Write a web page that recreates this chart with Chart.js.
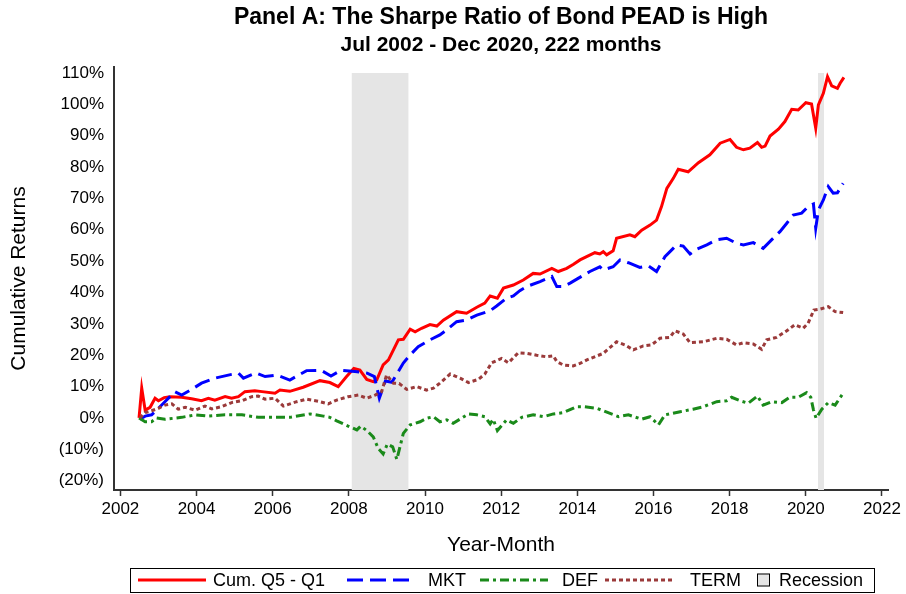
<!DOCTYPE html>
<html>
<head>
<meta charset="utf-8">
<script src="https://cdn.jsdelivr.net/npm/chart.js@4.4.1/dist/chart.umd.min.js"></script>
<style>
  html, body { margin: 0; padding: 0; background: #fff; }
  #wrap { width: 906px; height: 594px; }
</style>
</head>
<body>
<div id="wrap"><canvas id="chart" width="906" height="594"></canvas></div>
<script>
// ---- data (cumulative returns, %) ----
const xTickYears = [2002, 2004, 2006, 2008, 2010, 2012, 2014, 2016, 2018, 2020, 2022];
const yTickValues = [-20, -10, 0, 10, 20, 30, 40, 50, 60, 70, 80, 90, 100, 110];

const recessions = [[2008.07, 2009.57], [2020.32, 2020.48]];

const q5q1X = [2002.49, 2002.56, 2002.65, 2002.78, 2002.91, 2003.0, 2003.15, 2003.30, 2003.61, 2003.87, 2004.13, 2004.31, 2004.48, 2004.75, 2004.92, 2005.10, 2005.27, 2005.53, 2005.72, 2006.06, 2006.19, 2006.45, 2006.80, 2007.24, 2007.50, 2007.72, 2007.94, 2008.13, 2008.29, 2008.47, 2008.64, 2008.73, 2008.90, 2009.04, 2009.30, 2009.43, 2009.61, 2009.74, 2009.91, 2010.13, 2010.31, 2010.48, 2010.83, 2011.09, 2011.36, 2011.57, 2011.71, 2011.90, 2012.06, 2012.32, 2012.58, 2012.84, 2013.02, 2013.33, 2013.50, 2013.72, 2013.90, 2014.07, 2014.46, 2014.59, 2014.68, 2014.77, 2014.94, 2015.03, 2015.38, 2015.51, 2015.69, 2015.91, 2016.08, 2016.21, 2016.35, 2016.52, 2016.65, 2016.91, 2017.18, 2017.48, 2017.75, 2018.01, 2018.18, 2018.36, 2018.53, 2018.73, 2018.84, 2018.93, 2019.06, 2019.28, 2019.45, 2019.63, 2019.80, 2020.00, 2020.15, 2020.26, 2020.33, 2020.46, 2020.57, 2020.68, 2020.83, 2020.90, 2021.0];
const q5q1Y = [0, 9.5, 2.5, 3.4, 6.3, 5.5, 6.5, 6.8, 6.6, 6.1, 5.5, 6.3, 5.7, 6.8, 6.3, 6.8, 8.4, 8.7, 8.4, 7.9, 8.9, 8.5, 9.8, 11.9, 11.3, 10.0, 13.2, 15.8, 15.3, 12.3, 11.6, 12.1, 16.9, 18.5, 24.9, 25.1, 28.3, 27.5, 28.6, 29.8, 29.3, 31.2, 33.9, 33.4, 35.3, 36.6, 38.9, 38.2, 41.4, 42.4, 44.0, 46.1, 45.9, 47.7, 46.7, 47.7, 49.0, 50.4, 52.7, 52.3, 53.0, 52.0, 53.3, 57.3, 58.4, 57.8, 59.9, 61.5, 63.1, 67.4, 73.2, 76.4, 79.3, 78.5, 81.4, 83.9, 87.6, 88.8, 86.3, 85.5, 86.0, 87.8, 86.3, 86.7, 89.9, 92.1, 94.5, 98.4, 98.2, 100.5, 100.1, 92.4, 99.8, 103.5, 108.8, 105.9, 105.1, 106.7, 108.6];

const mktX = [2002.51, 2002.65, 2002.82, 2002.95, 2003.13, 2003.43, 2003.61, 2003.87, 2004.13, 2004.48, 2004.92, 2005.10, 2005.23, 2005.56, 2005.80, 2006.10, 2006.45, 2006.89, 2007.27, 2007.53, 2007.79, 2008.16, 2008.48, 2008.67, 2008.80, 2008.96, 2009.13, 2009.43, 2009.61, 2009.82, 2010.13, 2010.39, 2010.57, 2010.83, 2011.09, 2011.36, 2011.71, 2011.88, 2012.14, 2012.32, 2012.49, 2012.67, 2013.02, 2013.33, 2013.46, 2013.63, 2013.81, 2014.02, 2014.33, 2014.59, 2014.68, 2014.94, 2015.12, 2015.34, 2015.64, 2015.86, 2016.08, 2016.30, 2016.61, 2016.78, 2016.96, 2017.13, 2017.40, 2017.66, 2017.92, 2018.18, 2018.36, 2018.62, 2018.88, 2019.10, 2019.32, 2019.50, 2019.67, 2019.89, 2020.06, 2020.20, 2020.26, 2020.33, 2020.46, 2020.59, 2020.72, 2020.83, 2020.98];
const mktY = [-0.4, 0.6, 1.0, 2.5, 4.7, 8.4, 7.3, 9.1, 11.1, 12.7, 13.9, 14.3, 12.7, 14.4, 13.2, 13.7, 12.1, 15.1, 15.2, 13.4, 15.2, 14.8, 14.3, 13.2, 6.3, 11.8, 11.4, 17.5, 20.1, 22.7, 24.9, 26.5, 28.1, 30.7, 31.2, 32.8, 34.2, 35.7, 38.2, 38.9, 40.6, 41.9, 43.5, 45.1, 41.9, 41.9, 43.0, 44.5, 46.7, 48.2, 47.2, 48.2, 50.4, 49.5, 48.0, 48.5, 46.7, 51.4, 55.2, 54.8, 52.3, 53.8, 55.2, 56.8, 57.3, 55.7, 55.2, 55.9, 54.1, 56.8, 59.4, 62.1, 64.7, 65.3, 67.4, 68.2, 60.5, 66.3, 69.5, 73.8, 71.7, 71.8, 74.8];

const defX = [2002.49, 2002.65, 2002.82, 2002.95, 2003.17, 2003.61, 2003.96, 2004.31, 2004.75, 2005.19, 2005.62, 2006.06, 2006.45, 2006.98, 2007.33, 2007.50, 2007.68, 2007.98, 2008.21, 2008.31, 2008.47, 2008.64, 2008.77, 2008.90, 2009.01, 2009.15, 2009.26, 2009.43, 2009.61, 2009.87, 2010.04, 2010.22, 2010.39, 2010.57, 2010.74, 2011.14, 2011.36, 2011.57, 2011.71, 2011.79, 2011.90, 2012.14, 2012.32, 2012.54, 2012.84, 2013.11, 2013.37, 2013.63, 2013.98, 2014.16, 2014.51, 2015.08, 2015.34, 2015.69, 2015.91, 2016.13, 2016.30, 2016.70, 2017.04, 2017.31, 2017.66, 2017.92, 2018.05, 2018.27, 2018.49, 2018.73, 2018.88, 2019.10, 2019.37, 2019.58, 2019.80, 2020.02, 2020.13, 2020.20, 2020.27, 2020.42, 2020.59, 2020.77, 2020.98];
const defY = [0, -1.2, -1.2, 0, -0.4, 0.2, 1.0, 0.6, 1.0, 1.0, 0.2, 0.2, 0.2, 1.3, 0.6, 0.2, -0.9, -2.6, -3.8, -2.6, -4.0, -6.0, -9.7, -11.5, -8.3, -9.2, -13.2, -4.9, -2.2, -1.2, -0.1, 0.4, -1.2, -0.6, -1.7, 1.3, 1.0, 0.4, -1.9, -0.4, -4.0, -0.6, -1.7, 0.2, 1.0, 0.4, 1.3, 1.7, 3.6, 3.6, 3.1, 0.4, 1.0, -0.4, 0.4, -2.2, 1.0, 2.0, 2.8, 3.6, 5.2, 5.5, 6.6, 5.5, 4.7, 7.0, 4.1, 5.2, 4.9, 6.6, 6.6, 8.1, 6.6, 2.6, -0.1, 2.8, 4.9, 4.1, 7.9];

const termX = [2002.51, 2002.65, 2002.82, 2003.0, 2003.17, 2003.35, 2003.52, 2003.70, 2003.96, 2004.22, 2004.40, 2004.66, 2004.92, 2005.19, 2005.45, 2005.62, 2005.80, 2006.06, 2006.28, 2006.63, 2006.89, 2007.24, 2007.46, 2007.68, 2007.98, 2008.25, 2008.47, 2008.69, 2008.86, 2008.99, 2009.17, 2009.32, 2009.52, 2009.78, 2010.04, 2010.22, 2010.39, 2010.66, 2010.92, 2011.14, 2011.40, 2011.57, 2011.75, 2012.01, 2012.19, 2012.45, 2012.67, 2012.93, 2013.19, 2013.37, 2013.46, 2013.63, 2013.89, 2014.07, 2014.25, 2014.68, 2015.03, 2015.25, 2015.47, 2015.73, 2015.95, 2016.17, 2016.43, 2016.56, 2016.78, 2016.96, 2017.31, 2017.66, 2017.92, 2018.18, 2018.36, 2018.62, 2018.84, 2018.97, 2019.23, 2019.50, 2019.71, 2019.93, 2020.06, 2020.21, 2020.37, 2020.59, 2020.77, 2020.98];
const termY = [0, 1.7, 2.3, 3.1, 4.1, 4.5, 2.8, 3.4, 2.5, 3.8, 2.9, 3.6, 4.9, 5.5, 6.8, 7.0, 6.0, 6.3, 3.8, 5.2, 6.0, 5.2, 4.5, 5.7, 6.8, 7.3, 6.3, 7.3, 8.4, 13.7, 11.1, 11.0, 9.1, 10.0, 8.9, 9.5, 11.1, 14.0, 12.7, 11.3, 12.3, 14.0, 17.6, 19.0, 17.6, 20.8, 20.6, 20.0, 19.5, 19.8, 18.0, 16.9, 16.6, 17.4, 18.5, 20.6, 24.3, 23.3, 21.7, 23.0, 23.3, 25.4, 25.7, 27.8, 26.8, 24.0, 24.3, 25.4, 25.1, 23.3, 24.0, 23.6, 21.9, 24.9, 25.7, 27.8, 29.7, 28.6, 30.2, 34.4, 34.7, 35.5, 33.9, 33.6];

const seriesLabels = ["Cum. Q5 - Q1", "MKT", "DEF", "TERM"];
const titleText = "Panel A: The Sharpe Ratio of Bond PEAD is High";
const subtitleText = "Jul 2002 - Dec 2020, 222 months";

// ---- helpers ----
function zipXY(xs, ys) {
  return xs.map((x, i) => ({ x, y: ys[i] }));
}

function fmtPct(v) {
  return v < 0 ? "(" + Math.abs(v) + "%)" : v + "%";
}

const FONT = "Arial, 'Liberation Sans', Helvetica, sans-serif";

const lineStyles = [
  { color: "#ff0000", dash: [] },
  { color: "#0000ff", dash: [16, 7] },
  { color: "#1a8a1a", dash: [9, 4, 3, 4] },
  { color: "#9b3a3a", dash: [4, 3] },
];

const seriesData = [
  zipXY(q5q1X, q5q1Y),
  zipXY(mktX, mktY),
  zipXY(defX, defY),
  zipXY(termX, termY),
];

const lineDatasets = seriesData.map((data, i) => ({
  label: seriesLabels[i],
  data,
  borderColor: lineStyles[i].color,
  borderDash: lineStyles[i].dash,
  borderWidth: 3,
  pointRadius: 0,
  tension: 0,
  fill: false,
  order: 4 - i, // red drawn on top
}));

const shadeDatasets = recessions.map(([a, b]) => ({
  label: "Recession",
  data: [{ x: a, y: 110 }, { x: b, y: 110 }],
  borderWidth: 0,
  borderColor: "rgba(0,0,0,0)",
  backgroundColor: "#e5e5e5",
  pointRadius: 0,
  fill: "start",
  order: 10,
}));

/* ============================================================
 * titles (centred over the plot) + legend box at the bottom
 * ============================================================ */
const frame = {
  id: "frame",
  afterDraw(chart) {
    const ctx = chart.ctx;
    const midX = (chart.chartArea.left + chart.chartArea.right) / 2;
    ctx.save();
    ctx.fillStyle = "#000";
    ctx.textAlign = "center";
    ctx.textBaseline = "middle";
    ctx.font = "bold 23px " + FONT;
    ctx.fillText(titleText, midX, 18);
    ctx.font = "bold 21px " + FONT;
    ctx.fillText(subtitleText, midX, 45);

    // legend
    const top = 568, h = 24, cy = top + h / 2;
    ctx.textAlign = "left";
    ctx.strokeStyle = "#000";
    ctx.lineWidth = 1;
    ctx.strokeRect(130.5, top + 0.5, 744, h);

    const lineX = [138, 347, 480, 605];
    const textX = [213, 428, 562, 690];
    ctx.font = "18px " + FONT;
    lineStyles.forEach((st, i) => {
      ctx.beginPath();
      ctx.setLineDash(st.dash);
      ctx.strokeStyle = st.color;
      ctx.lineWidth = 3;
      ctx.moveTo(lineX[i], cy);
      ctx.lineTo(lineX[i] + 68, cy);
      ctx.stroke();
      ctx.fillText(seriesLabels[i], textX[i], cy + 1);
    });
    ctx.setLineDash([]);
    ctx.fillStyle = "#e5e5e5";
    ctx.fillRect(757, cy - 6.5, 13, 13);
    ctx.strokeStyle = "#000";
    ctx.lineWidth = 1;
    ctx.strokeRect(757.5, cy - 6, 12, 12);
    ctx.fillStyle = "#000";
    ctx.fillText("Recession", 779, cy + 1);
    ctx.restore();
  },
};

new Chart(document.getElementById("chart"), {
  type: "line",
  data: { datasets: [...lineDatasets, ...shadeDatasets] },
  plugins: [frame],
  options: {
    responsive: false,
    animation: false,
    layout: { padding: { left: 0, right: 18, top: 67, bottom: 36 } },
    plugins: {
      legend: { display: false },
      tooltip: { enabled: false },
    },
    scales: {
      x: {
        type: "linear",
        min: 2001.832,
        max: 2022.158,
        afterBuildTicks: (s) => { s.ticks = xTickYears.map((v) => ({ value: v })); },
        afterFit: (s) => { s.height = 68; s.paddingLeft = 0; s.paddingRight = 0; },
        ticks: {
          autoSkip: false,
          maxRotation: 0,
          padding: 3,
          color: "#000",
          font: { family: FONT, size: 17 },
          callback: (v) => String(v),
        },
        grid: { drawOnChartArea: false, drawTicks: true, tickLength: 6, tickColor: "#333", tickWidth: 1.5 },
        border: { display: true, color: "#333", width: 2 },
        title: {
          display: true,
          text: "Year-Month",
          color: "#000",
          font: { family: FONT, size: 21 },
          padding: { top: 0, bottom: 0 },
        },
      },
      y: {
        type: "linear",
        min: -22.96,
        max: 111.9,
        afterBuildTicks: (s) => { s.ticks = yTickValues.map((v) => ({ value: v })); },
        afterFit: (s) => { s.width = 114; s.paddingTop = 0; s.paddingBottom = 0; },
        ticks: {
          autoSkip: false,
          padding: 10,
          color: "#000",
          font: { family: FONT, size: 17 },
          callback: (v) => fmtPct(v),
        },
        grid: { drawOnChartArea: false, drawTicks: false },
        border: { display: true, color: "#333", width: 2 },
        title: {
          display: true,
          text: "Cumulative Returns",
          color: "#000",
          font: { family: FONT, size: 21 },
          padding: { top: 7, bottom: 0 },
        },
      },
    },
  },
});
</script>
</body>
</html>
